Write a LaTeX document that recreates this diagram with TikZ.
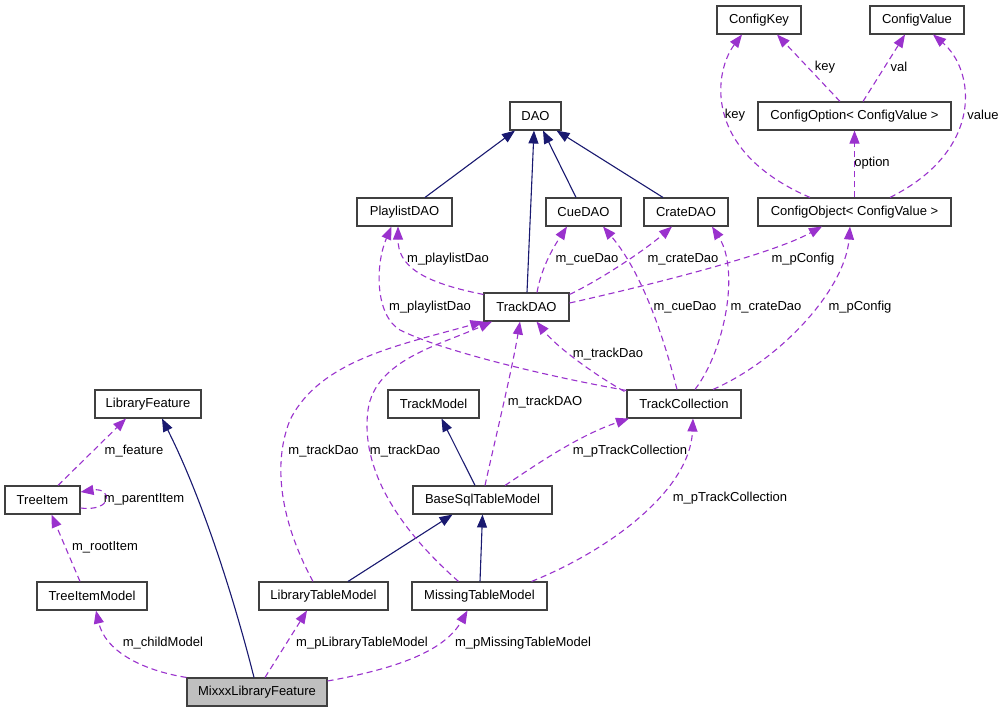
\documentclass[tikz,border=0pt]{standalone}
\usepackage{fontspec}
\setmainfont{Liberation Sans}
\usetikzlibrary{arrows.meta,calc}
\definecolor{depcol}{HTML}{9A32CD}
\definecolor{inhcol}{HTML}{191970}
\definecolor{mxfill}{HTML}{BFBFBF}
\definecolor{boxline}{HTML}{404040}
\begin{document}
\begin{tikzpicture}[x=1pt,y=-1pt,
  box/.style={draw=boxline, line width=1.1pt, minimum height=28pt, inner sep=0pt, font=\fontsize{13}{15}\selectfont, fill=white},
  inhe/.style={draw=inhcol, line width=1.1pt, -{Triangle[length=13pt,width=10pt]}},
  depe/.style={draw=depcol, line width=1.1pt, dash pattern=on 6pt off 4pt, -{Triangle[length=13pt,width=10pt]}},
  lbl/.style={font=\fontsize{13}{15}\selectfont, inner sep=0pt}]
\useasboundingbox[fill=white] (0,0) rectangle (1004,712);

% nodes
\node[box, minimum width=84pt] (CK) at (759,20) {ConfigKey};
\node[box, minimum width=94pt] (CV) at (917,20) {ConfigValue};
\node[box, minimum width=193pt] (CO) at (854.5,116) {ConfigOption< ConfigValue >};
\node[box, minimum width=193pt] (CB) at (854.5,212) {ConfigObject< ConfigValue >};
\node[box, minimum width=51pt] (DAO) at (535.5,116) {DAO};
\node[box, minimum width=95pt] (PL) at (404.5,212) {PlaylistDAO};
\node[box, minimum width=75pt] (CU) at (583.5,212) {CueDAO};
\node[box, minimum width=84pt] (CR) at (686,212) {CrateDAO};
\node[box, minimum width=85pt] (TD) at (526.5,307) {TrackDAO};
\node[box, minimum width=106pt] (LF) at (148,404) {LibraryFeature};
\node[box, minimum width=91pt] (TM) at (433.5,404) {TrackModel};
\node[box, minimum width=114pt] (TC) at (684,404) {TrackCollection};
\node[box, minimum width=75pt] (TI) at (42.5,500) {TreeItem};
\node[box, minimum width=139pt] (BS) at (482.5,500) {BaseSqlTableModel};
\node[box, minimum width=110pt] (TIM) at (92,596) {TreeItemModel};
\node[box, minimum width=129pt] (LT) at (323.5,596) {LibraryTableModel};
\node[box, minimum width=135pt] (MT) at (479.5,596) {MissingTableModel};
\node[box, minimum width=140pt, fill=mxfill] (MX) at (257,692) {MixxxLibraryFeature};

% inheritance
\draw[inhe] ($(PL.north)+(20.5,0)$) -- ($(DAO.south)+(-20.5,0)$);
\draw[inhe] ($(TD.north)+(0.5,0)$) -- ($(DAO.south)+(-1.5,0)$);
\draw[inhe] ($(CU.north)+(-7.5,0)$) -- ($(DAO.south)+(7.5,0)$);
\draw[inhe] ($(CR.north)+(-23,0)$) -- ($(DAO.south)+(21,0)$);
\draw[inhe] ($(BS.north)+(-7.5,0)$) -- ($(TM.south)+(8,0)$);
\draw[inhe] ($(LT.north)+(24.5,0)$) -- ($(BS.south)+(-30,0)$);
\draw[inhe] ($(MT.north)+(0.5,0)$) -- (BS.south);
\draw[inhe] ($(MX.north)+(-3,0)$) .. controls (234,598) and (202,498) .. ($(LF.south)+(14,0)$);

% config dependencies
\draw[depe] ($(CO.north)+(-14.5,0)$) -- ($(CK.south)+(18,0)$);
\node[lbl] (l1) at (825,67) {key};
\draw[depe] ($(CO.north)+(8.5,0)$) -- ($(CV.south)+(-12,0)$);
\node[lbl] (l2) at (899,67) {val};
\draw[depe] ($(CB.north)+(-44.5,0)$) .. controls (700,150) and (715,70) .. ($(CK.south)+(-17,0)$);
\node[lbl] (l3) at (735,115) {key};
\draw[depe] ($(CB.north)+(35.5,0)$) .. controls (985,150) and (975,70) .. ($(CV.south)+(16,0)$);
\node[lbl] (l4) at (983,115) {value};
\draw[depe] (CB.north) -- (CO.south);
\node[lbl] (l5) at (872,163) {option};

% DAO dependencies
\draw[depe] ($(TD.north west)+(0,2)$) .. controls (420,282) and (398,265) .. ($(PL.south)+(-6.5,0)$);
\node[lbl] (l6) at (448,259) {m\_playlistDao};
\draw[depe] ($(TC.north west)+(0,1)$) .. controls (540,375) and (440,350) .. (400,330) .. controls (375,315) and (375,265) .. ($(PL.south)+(-13,0)$);
\node[lbl] (l7) at (430,307) {m\_playlistDao};
\draw[depe] ($(TD.north)+(10.5,0)$) .. controls (542,265) and (555,245) .. ($(CU.south)+(-16.5,0)$);
\node[lbl] (l8) at (587,259) {m\_cueDao};
\draw[depe] ($(TD.north east)+(0,2)$) .. controls (600,280) and (645,250) .. ($(CR.south)+(-14,0)$);
\node[lbl] (l9) at (683,259) {m\_crateDao};
\draw[depe] ($(TD.east)+(0,-4)$) .. controls (650,285) and (770,255) .. ($(CB.south)+(-32.5,0)$);
\node[lbl] (l10) at (803,259) {m\_pConfig};
\draw[depe] ($(TC.north)+(-7,0)$) .. controls (662,330) and (640,270) .. ($(CU.south)+(19.5,0)$);
\node[lbl] (l11) at (685,307) {m\_cueDao};
\draw[depe] ($(TC.north)+(11,0)$) .. controls (725,350) and (740,270) .. ($(CR.south)+(26,0)$);
\node[lbl] (l12) at (766,307) {m\_crateDao};
\draw[depe] ($(TC.north)+(29,0)$) .. controls (780,360) and (845,290) .. ($(CB.south)+(-4.5,0)$);
\node[lbl] (l13) at (860,307) {m\_pConfig};
\draw[depe] ($(TC.north west)+(-2,2)$) .. controls (590,372) and (555,345) .. ($(TD.south)+(10,0)$);
\node[lbl] (l14) at (608,354) {m\_trackDao};

% model dependencies
\draw[depe] ($(BS.north)+(2.5,0)$) .. controls (495,440) and (512,370) .. ($(TD.south)+(-6.5,0)$);
\node[lbl] (l15) at (545,402) {m\_trackDAO};
\draw[depe] ($(BS.north)+(22.5,0)$) .. controls (540,462) and (580,435) .. ($(TC.south)+(-55,0)$);
\node[lbl] (l16) at (630,451) {m\_pTrackCollection};
\draw[depe] ($(LT.north)+(-10.5,0)$) .. controls (285,530) and (270,470) .. (290,420) .. controls (320,360) and (400,345) .. (TD.south west);
\node[lbl] (l17) at (323.5,451) {m\_trackDao};
\draw[depe] ($(MT.north)+(-21,0)$) .. controls (400,530) and (360,470) .. (368,410) .. controls (375,360) and (440,345) .. ($(TD.south)+(-34.5,0)$);
\node[lbl] (l18) at (405,451) {m\_trackDao};
\draw[depe] ($(MT.north)+(52,0)$) .. controls (610,550) and (690,490) .. ($(TC.south)+(9,0)$);
\node[lbl] (l19) at (730,498) {m\_pTrackCollection};

% tree dependencies
\draw[depe] ($(TI.north)+(15.5,0)$) -- ($(LF.south)+(-22,0)$);
\node[lbl] (l20) at (134,451) {m\_feature};
\draw[depe] ($(TI.east)+(0,8)$) .. controls (114,512) and (112,487) .. ($(TI.east)+(0,-8)$);
\node[lbl] (l21) at (144,499) {m\_parentItem};
\draw[depe] ($(TIM.north)+(-12,0)$) -- ($(TI.south)+(9,0)$);
\node[lbl] (l22) at (105,547) {m\_rootItem};
\draw[depe] (MX.north west) .. controls (140,670) and (105,650) .. ($(TIM.south)+(4,0)$);
\node[lbl] (l23) at (163,643) {m\_childModel};
\draw[depe] ($(MX.north)+(8,0)$) -- ($(LT.south)+(-16.5,0)$);
\node[lbl] (l24) at (362,643) {m\_pLibraryTableModel};
\draw[depe] ($(MX.east)+(0,-11)$) .. controls (400,668) and (445,650) .. ($(MT.south)+(-12,0)$);
\node[lbl] (l25) at (523,643) {m\_pMissingTableModel};
\end{tikzpicture}
\end{document}
